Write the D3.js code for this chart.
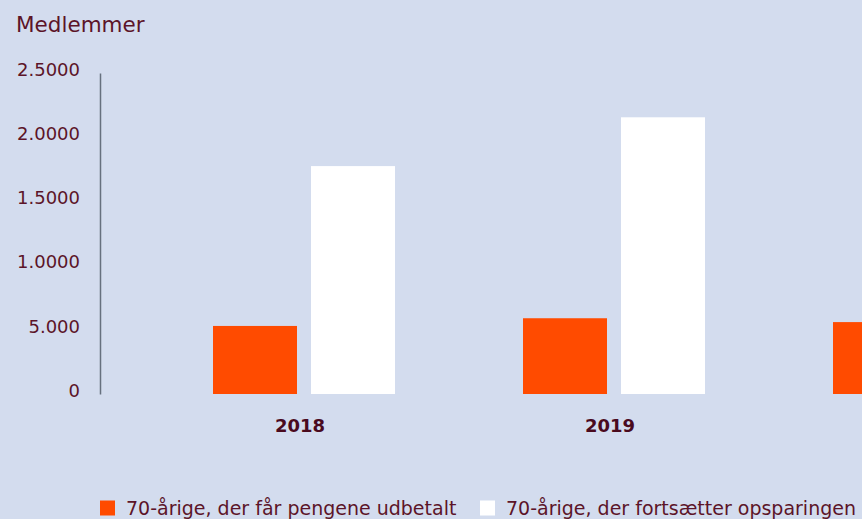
<!DOCTYPE html>
<html><head><meta charset="utf-8">
<script src="https://cdn.jsdelivr.net/npm/d3@7"></script>
<style>
html,body{margin:0;padding:0;background:#d3dcee;}
svg{display:block;font-family:"DejaVu Sans", sans-serif;}
</style></head>
<body>
<svg id="chart" width="862" height="519"></svg>
<script>
const categories = ["2018", "2019", "2020"];
const seriesNames = ["70-årige, der får pengene udbetalt", "70-årige, der fortsætter opsparingen"];
const udbetalt = [5300, 5900, 5600];
const fortsaetter = [17750, 21550, 21000];
const tickValues = [0, 5000, 10000, 15000, 20000, 25000];
const tickLabels = ["0", "5.000", "1.0000", "1.5000", "2.0000", "2.5000"];
const colors = ["#ff4b00", "#ffffff"];
const textColor = "#5c1428";
const W = 862, H = 519;

const svg = d3.select("#chart");
svg.append("rect").attr("width", W).attr("height", H).attr("fill", "#d3dcee");

const y = d3.scaleLinear().domain([0, 25000]).range([394, 73]);
const x0 = d3.scaleBand().domain(categories).range([149, 1079]).padding(0);
const x1 = d3.scaleBand().domain([0, 1]).range([0, 182]).paddingInner(14 / 98);

const groupOffset = (x0.bandwidth() - 182) / 2;

// bars
const data = categories.map((c, i) => ({cat: c, vals: [udbetalt[i], fortsaetter[i]]}));
const g = svg.append("g");
const groups = g.selectAll("g.grp").data(data).join("g")
  .attr("transform", d => `translate(${x0(d.cat) + groupOffset},0)`);
groups.selectAll("rect").data(d => d.vals.map((v, k) => ({v, k}))).join("rect")
  .attr("x", d => x1(d.k))
  .attr("width", x1.bandwidth())
  .attr("y", d => y(d.v))
  .attr("height", d => y(0) - y(d.v))
  .attr("fill", d => colors[d.k]);

// y axis
const yAxis = d3.axisLeft(y).tickValues(tickValues).tickSize(0).tickPadding(20)
  .tickFormat((d, i) => tickLabels[i]);
const ya = svg.append("g").attr("transform", "translate(100,0)").call(yAxis);
ya.select(".domain").attr("stroke", "#66707e").attr("stroke-width", 1.5);
ya.selectAll("text").attr("fill", textColor).attr("font-size", 18)
  .attr("font-family", "'DejaVu Sans', sans-serif").attr("dy", "0.32em").attr("y", -3.5);

// x labels (only those whose group centre lies inside the visible area)
const visibleCats = categories.filter(c => x0(c) + x0.bandwidth() / 2 < W);
const xAxis = d3.axisBottom(x0).tickValues(visibleCats).tickSize(0).tickPadding(0);
const xa = svg.append("g").attr("transform", "translate(0,432)").call(xAxis);
xa.select(".domain").remove();
xa.selectAll("text").attr("fill", "#4a0a1e").attr("font-size", 18).attr("font-weight", "bold")
  .attr("font-family", "'DejaVu Sans', sans-serif").attr("dy", 0).attr("y", 0).attr("dx", -4);

// title
svg.append("text").attr("x", 16).attr("y", 32).text("Medlemmer")
  .attr("fill", textColor).attr("font-size", 21.5);

// legend
const legX = [100, 480];
const leg = svg.append("g");
seriesNames.forEach((n, i) => {
  leg.append("rect").attr("x", legX[i]).attr("y", 500.5).attr("width", 15).attr("height", 15).attr("fill", colors[i]);
  leg.append("text").attr("x", legX[i] + 26).attr("y", 515).text(n)
    .attr("fill", textColor).attr("font-size", 19);
});
</script>
</body></html>
